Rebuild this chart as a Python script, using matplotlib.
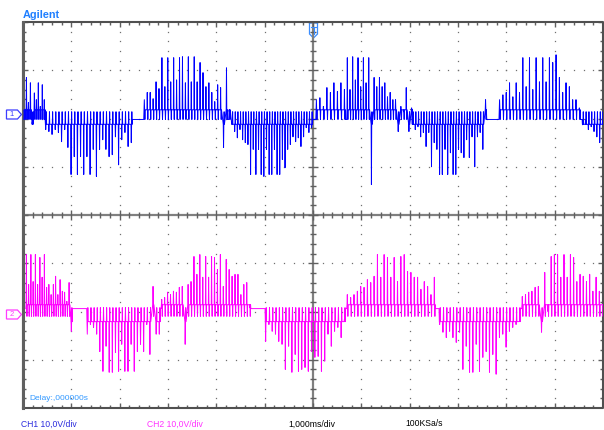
import numpy as np
import matplotlib.pyplot as plt
from matplotlib.collections import LineCollection
from matplotlib.patches import Polygon

volts_per_div = 10.0
ch1_offset = 2.08   # divisions
ch2_offset = -2.06

# CH1: bursts of PWM spikes, peak values in V, spread between start/end times (ms)
ch1_start = [-5.97, -5.53, -3.49, -1.73, 0.07, 0.71, 2.06, 3.86, 5.58]
ch1_end = [-5.56, -3.76, -1.79, -0.03, 0.65, 2.04, 3.57, 5.51, 5.99]
ch1_a = [0.4, 7.7, 2.5, 6.6, -1.5, 4.5, 3.1, 6.6, 1.7, 6.2, 3.1]
ch1_b = [-3.1, -3.5, -4.1, -3.1, -3.7, -5.6, -3.1, -6.8, -12.4, -8.7, -12.4, -8.7, -12.4, -8.7,
         -12.4, -7.2, -12.8, -7.2, -5.2, -7.2, -8.7, -8.3, -4.6, -10.4, -5.2, -3.7, -6.6, -5.8]
ch1_c = [3.1, 4.6, 4.6, 3.3, 6.8, 5.4, 11.8, 5.8, 11.8, 6.8, 11.8, 7.2, 11.8, 12.0, 6.6, 12.0,
         6.8, 12.0, 6.8, 10.8, 8.7, 5.8, 6.6, 4.6, 2.7, 6.2, 5.6, -6.8, 9.7]
ch1_d = [0.6, -1.7, -3.5, -4.8, -3.1, -5.2, -5.8, -6.2, -12.4, -7.2, -12.4, -7.2, -12.4, -12.8,
         -7.2, -12.4, -12.4, -7.2, -12.4, -12.4, -9.3, -11.0, -7.2, -6.2, -4.6, -5.6, -4.8, -6.6,
         -4.6, -2.7, -3.7, -2.7]
ch1_e = [3.1, 3.5, 1.7, 5.6, 4.6, 6.6, 4.8, 6.6, 5.2]
ch1_f = [11.8, 5.2, 12.0, 7.2, 11.8, 5.8, 11.8, 6.6, 11.8, -14.5, 7.7, 5.8, 7.7, 5.8, 6.6, 3.7,
         4.6, 3.1, 3.1, -3.5, 1.7, 0.6, 5.6, -3.5, 1.4]
ch1_g = [-0.4, -3.1, -2.5, -4.6, -3.7, -6.6, -3.7, -10.8, -5.8, -7.2, -12.4, -12.4, -7.2, -12.4,
         -7.9, -12.4, -12.4, -7.2, -7.9, -8.9, -5.2, -8.9, -4.6, -10.8, -4.6, -3.7, -7.2, 3.1]
ch1_h = [3.1, 4.1, 4.6, 6.6, 3.7, 6.6, 4.6, 11.8, 5.8, 11.8, 5.2, 11.8, 6.8, 11.8, 6.8, 11.8,
         10.8, 12.4, 7.7, 4.6, 6.6, 5.8, 3.1, 3.1, 1.4]
ch1_i = [-2.1, -1.0, -3.1, -2.5, -3.5, -4.6, -5.8, -1.5]
ch1_bursts = [ch1_a, ch1_b, ch1_c, ch1_d, ch1_e, ch1_f, ch1_g, ch1_h, ch1_i]
# levels between spikes (V): (mid, short return) for up spikes and for down spikes
ch1_up_levels = (1.0, -1.0)
ch1_down_levels = (-2.0, 0.6)
ch1_rest = -1.0

# CH2
ch2_start = [-5.93, -4.67, -3.13, -0.98, 0.71, 2.62, 4.33]
ch2_end = [-5.00, -3.18, -1.31, 0.65, 2.51, 4.27, 5.99]
ch2_a = [12.4, 6.2, 12.4, 6.8, 12.4, 6.2, 11.8, 7.7, 12.4, 5.6, 6.2, 4.1, 6.2, 7.9, 4.1, 7.2,
         4.8, 4.6, 2.7, 6.6, -3.5]
ch2_b = [-4.1, -2.1, -2.7, -4.1, -7.7, -11.8, -6.6, -12.0, -12.0, -7.9, -11.8, -6.2, -11.8,
         -11.8, -6.2, -11.8, -7.7, -6.2, -7.7, -2.1, -8.3, 5.8, -4.1, -4.1]
ch2_c = [3.1, 3.5, 4.6, 4.1, 4.8, 4.6, 5.6, 5.8, -6.2, 6.2, 6.8, 12.0, 8.3, 12.4, 7.7, 12.0, 7.7,
         12.0, 11.8, 9.3, 12.4, 5.8, 11.4, 9.3, 7.9, 8.3, 8.3, 4.1, 6.2, 6.6, 1.4]
ch2_d = [-5.6, -2.1, -3.5, -4.1, -5.6, -6.2, -11.4, -6.6, -12.0, -8.3, -11.8, -11.4, -11.0,
         -11.8, -7.7, -8.9, -8.7, -11.8, -9.7, -4.1, -6.6, -3.5, -2.7, -4.8, -1.0]
ch2_e = [4.1, 3.5, 4.1, 4.8, 5.8, 5.6, 7.2, 6.6, 7.9, 12.4, 7.7, 12.4, 11.8, 7.7, 11.8, 6.8,
         12.0, 12.4, 8.9, 8.7, 7.7, 7.7, 5.2, 6.8, 5.8, 4.1, 7.7]
ch2_f = [-2.1, -3.7, -4.8, -3.5, -4.8, -5.8, -3.7, -11.4, -6.6, -12.0, -12.0, -6.2, -11.8, -8.9,
         -7.7, -12.0, -8.3, -12.4, -4.8, -4.1, -6.8, -3.5, -2.7, -2.1, -1.4]
ch2_g = [3.7, 4.1, 4.6, 4.8, 5.6, 5.8, -3.7, 8.7, 0.6, 12.0, 12.4, 12.4, 7.7, 12.4, 7.7, 12.4,
         11.8, 6.8, 8.3, 7.9, 6.8, 8.3, 4.8, 7.7, 4.8, 2.1]
ch2_bursts = [ch2_a, ch2_b, ch2_c, ch2_d, ch2_e, ch2_f, ch2_g]
ch2_up_levels = (2.0, -0.4)
ch2_down_levels = (-1.5, 1.4)
ch2_rest = 1.2


def build_trace(starts, ends, bursts, up_levels, down_levels, rest, w=0.006):
    t, v = [], []
    for s, e, peaks in zip(starts, ends, bursts):
        t.append(s - 2 * w)
        v.append(rest)
        for ti, pk in zip(np.linspace(s, e, len(peaks)), peaks):
            mid, ret = up_levels if pk > 0 else down_levels
            t += [ti - w, ti, ti + w, ti + 2 * w, ti + 3 * w]
            v += [mid, pk, mid, ret, mid]
        t.append(e + 4 * w)
        v.append(rest)
    return np.array(t), np.array(v)


# screen pixel -> division coords, for the decorations only
def px_x(x):
    return (x - 313.5) / 48.33


def px_y(y):
    return (215 - y) / 48.25


fig = plt.figure(figsize=(6.04, 4.30), dpi=100)
ax = fig.add_axes([23 / 604, 22 / 430, 580 / 604, 386 / 430])
ax.set_xlim(-6, 6)
ax.set_ylim(-4, 4)
ax.axis('off')

grey = '#606060'
minor_x = np.round(np.arange(-6, 6.01, 0.2), 2)
minor_y = np.round(np.arange(-4, 4.01, 0.2), 2)

# dotted graticule
for gx in range(-5, 6):
    if gx != 0:
        ax.plot(np.full(len(minor_y) - 2, gx), minor_y[1:-1], ls='none', marker='s', ms=0.9,
                mew=0, color='#707070')
for gy in range(-3, 4):
    if gy != 0:
        ax.plot(minor_x[1:-1], np.full(len(minor_x) - 2, gy), ls='none', marker='s', ms=0.9,
                mew=0, color='#707070')

# centre axes and ticks
ax.plot([0, 0], [-4, 4], color='#808080', lw=1.6)
ax.plot([-6, 6], [0, 0], color='#808080', lw=1.6)
segs = []
tx = 3 / 48.33
ty = 3 / 48.25
for x in minor_x:
    k = 1.6 if abs(x - round(x)) < 1e-6 else 1.0
    segs.append([(x, 4), (x, 4 - ty * k)])
    segs.append([(x, -4), (x, -4 + ty * k)])
    segs.append([(x, -ty * k), (x, ty * k)])
for y in minor_y:
    k = 1.6 if abs(y - round(y)) < 1e-6 else 1.0
    segs.append([(-6, y), (-6 + tx * k, y)])
    segs.append([(6, y), (6 - tx * k, y)])
    segs.append([(-tx * k, y), (tx * k, y)])
ax.add_collection(LineCollection(segs, colors=grey, linewidths=1.0))

# frame
ax.plot([-6, 6, 6, -6, -6], [-4, -4, 4, 4, -4], color='#505050', lw=1.5, clip_on=False)
ax.plot([-6, -6], [-4, 4], color='#606060', lw=2.2, clip_on=False)

# traces
t1, v1 = build_trace(ch1_start, ch1_end, ch1_bursts, ch1_up_levels, ch1_down_levels, ch1_rest)
t2, v2 = build_trace(ch2_start, ch2_end, ch2_bursts, ch2_up_levels, ch2_down_levels, ch2_rest)
ax.plot(t1, ch1_offset + v1 / volts_per_div, color='#0000ff', lw=0.7)
ax.plot(t2, ch2_offset + v2 / volts_per_div, color='#ff00ff', lw=0.7)

# channel ground markers
for label, yc, col in [('1', 114.5, '#3c3cff'), ('2', 314.5, '#ff3cff')]:
    pts = [(px_x(7), px_y(yc - 4.5)), (px_x(18), px_y(yc - 4.5)), (px_x(22), px_y(yc)),
           (px_x(18), px_y(yc + 4.5)), (px_x(7), px_y(yc + 4.5))]
    ax.add_patch(Polygon(pts, closed=True, fc='white', ec=col, lw=0.9, clip_on=False))
    ax.text(px_x(12.5), px_y(yc), label, color=col, fontsize=5.5, ha='center', va='center',
            family='Liberation Sans', clip_on=False)

# trigger marker
trig = [(px_x(310), px_y(23)), (px_x(318), px_y(23)), (px_x(318), px_y(34)),
        (px_x(314), px_y(38)), (px_x(310), px_y(34))]
ax.add_patch(Polygon(trig, closed=True, fc='white', ec='#3a8dff', lw=0.9, clip_on=False))
ax.plot([px_x(311.5), px_x(316.5)], [px_y(27), px_y(27)], color='#3a8dff', lw=0.8)
ax.plot([px_x(314), px_x(314)], [px_y(27), px_y(34)], color='#3a8dff', lw=0.8)

fam = 'Liberation Sans'
fig.text(23 / 604, 1 - 17.5 / 430, 'Agilent', color='#1f7fff', fontsize=7.8,
         fontweight='bold', family=fam, va='baseline')
fig.text(29 / 604, 1 - 400.5 / 430, 'Delay:,000000s', color='#3399ff', fontsize=6.0,
         family=fam, va='baseline')
fig.text(21 / 604, 1 - 426.5 / 430, 'CH1 10,0V/div', color='#2b2bdd', fontsize=6.2,
         family=fam, va='baseline')
fig.text(147 / 604, 1 - 426.5 / 430, 'CH2 10,0V/div', color='#ff33ff', fontsize=6.2,
         family=fam, va='baseline')
fig.text(288 / 604, 1 - 426.5 / 430, '1,000ms/div', color='black', fontsize=6.2,
         family=fam, va='baseline')
fig.text(405 / 604, 1 - 426.5 / 430, '100KSa/s', color='black', fontsize=6.2,
         family=fam, va='baseline')

fig.savefig('out.png', dpi=100)
